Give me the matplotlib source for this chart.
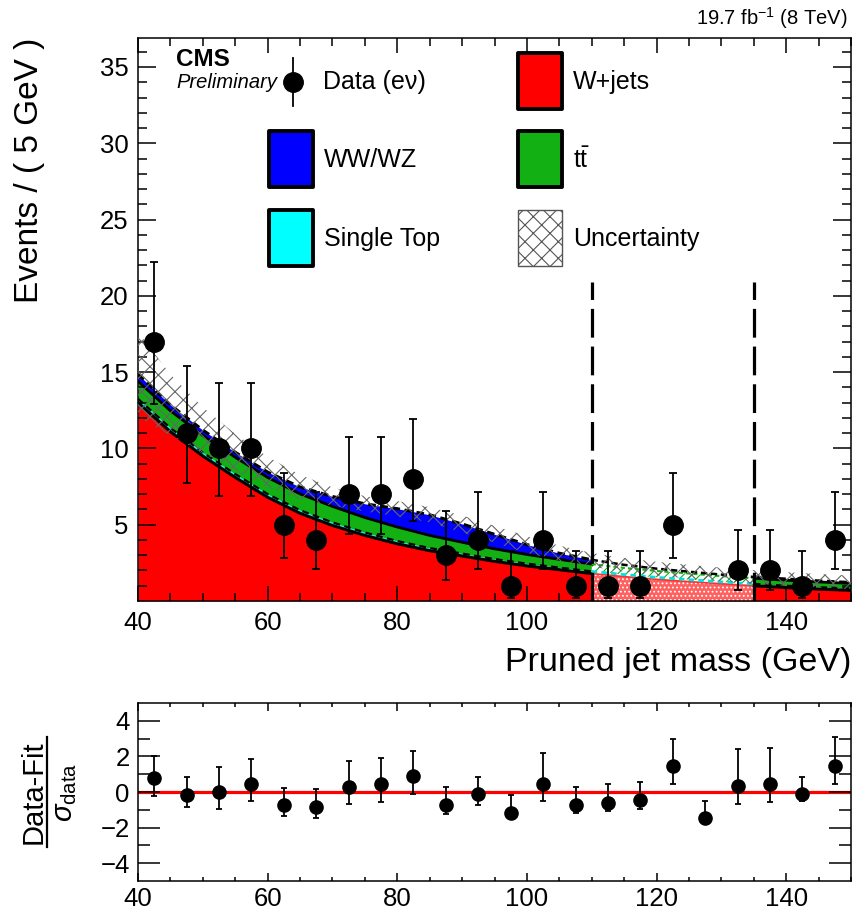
import numpy as np
import matplotlib.pyplot as plt
from matplotlib.patches import Rectangle
from matplotlib.lines import Line2D

plt.rcParams['font.family'] = ['Liberation Sans', 'DejaVu Sans']
plt.rcParams['mathtext.fontset'] = 'custom'
plt.rcParams['mathtext.rm'] = 'Liberation Sans'
plt.rcParams['mathtext.it'] = 'Liberation Sans:italic'
plt.rcParams['mathtext.bf'] = 'Liberation Sans:bold'
plt.rcParams['hatch.linewidth'] = 0.8

# --- data ---
bin_centers = [42.5, 47.5, 52.5, 57.5, 62.5, 67.5, 72.5, 77.5, 82.5, 87.5, 92.5,
               97.5, 102.5, 107.5, 112.5, 117.5, 122.5, 127.5, 132.5, 137.5, 142.5, 147.5]
data_counts = [17, 11, 10, 10, 5, 4, 7, 7, 8, 3, 4, 1, 4, 1, 1, 1, 5, 0, 2, 2, 1, 4]
data_err_lo = [4.1, 3.27, 3.11, 3.11, 2.16, 1.91, 2.58, 2.58, 2.77, 1.63, 1.91, 0.83,
               1.91, 0.83, 0.83, 0.83, 2.16, 0.0, 1.29, 1.29, 0.83, 1.91]
data_err_hi = [5.2, 4.42, 4.27, 4.27, 3.38, 3.16, 3.77, 3.77, 3.95, 2.92, 3.16, 2.30,
               3.16, 2.30, 2.30, 2.30, 3.38, 0.0, 2.64, 2.64, 2.30, 3.16]

# fit components (not stacked), sampled every 5 GeV
mass = [40, 45, 50, 55, 60, 65, 70, 75, 80, 85, 90, 95, 100, 105, 110,
        115, 120, 125, 130, 135, 140, 145, 150]
wjets = [13.0, 11.1, 9.5, 8.1, 6.8, 5.75, 4.95, 4.3, 3.75, 3.3, 2.95, 2.6, 2.3, 2.05, 1.8,
         1.6, 1.42, 1.27, 1.13, 1.0, 0.88, 0.78, 0.7]
single_top = [0.25, 0.24, 0.23, 0.22, 0.21, 0.2, 0.2, 0.19, 0.18, 0.17, 0.16, 0.15, 0.15, 0.14, 0.14,
              0.13, 0.13, 0.13, 0.12, 0.12, 0.12, 0.12, 0.12]
ttbar = [1.15, 1.13, 1.12, 1.1, 1.09, 1.07, 1.05, 0.98, 0.92, 0.83, 0.74, 0.67, 0.6, 0.54, 0.48,
         0.44, 0.42, 0.4, 0.38, 0.37, 0.36, 0.35, 0.33]
diboson = [0.45, 0.38, 0.35, 0.33, 0.35, 0.45, 0.65, 0.9, 1.2, 1.35, 1.2, 0.95, 0.65, 0.4, 0.28,
           0.2, 0.15, 0.12, 0.1, 0.09, 0.08, 0.07, 0.06]
unc_width = [2.8, 2.0, 1.5, 1.2, 1.0, 0.8, 0.6, 0.5, 0.5, 0.5, 0.55, 0.55, 0.55, 0.5, 0.45,
             0.45, 0.45, 0.45, 0.45, 0.45, 0.45, 0.45, 0.45]

pull = [0.77, -0.17, 0.0, 0.45, -0.73, -0.86, 0.30, 0.43, 0.90, -0.73, -0.13, -1.2,
        0.45, -0.73, -0.6, -0.45, 1.46, -1.47, 0.34, 0.45, -0.13, 1.46]
pull_top = [2.0, 0.86, 1.42, 1.83, 0.24, 0.15, 1.76, 1.89, 2.32, 0.30, 0.86, -0.19,
            2.17, 0.30, 0.43, 0.58, 3.0, -0.49, 2.41, 2.5, 0.86, 3.1]
pull_bottom = [-0.22, -0.86, -0.98, -0.5, -1.34, -1.47, -0.67, -0.58, -0.11, -1.25, -0.73, -1.45,
               -0.5, -1.2, -1.05, -0.95, 0.45, -1.75, -0.67, -0.54, -0.5, 0.45]

signal_window = [110, 135]

W, H = 852, 911


def fx(px):
    return px / W


def fy(py):
    return 1 - py / H


fig = plt.figure(figsize=(W / 100, H / 100), dpi=100)
ax = fig.add_axes([fx(138), fy(601), fx(851) - fx(138), fy(38) - fy(601)])
axr = fig.add_axes([fx(138), fy(881), fx(851) - fx(138), fy(703) - fy(881)])

m = np.array(mass, float)
lvl1 = np.array(wjets)
lvl2 = lvl1 + np.array(single_top)
lvl3 = lvl2 + np.array(ttbar)
lvl4 = lvl3 + np.array(diboson)
unc = np.array(unc_width)

# stacked fit components
ax.fill_between(m, 0, lvl1, color='#ff0000', lw=0, zorder=1)
ax.fill_between(m, lvl1, lvl2, color='#00ffff', lw=0, zorder=1)
ax.fill_between(m, lvl2, lvl3, color='#12b012', lw=0, zorder=1)
ax.fill_between(m, lvl3, lvl4, color='#0000ff', lw=0, zorder=1)

# blinded window drawn in a lighter style
win = (m >= signal_window[0]) & (m <= signal_window[1])
ax.fill_between(m[win], 0, lvl1[win], facecolor='#ff6060', edgecolor='white', hatch='....', lw=0, zorder=2)
ax.fill_between(m[win], lvl1[win], lvl4[win], facecolor='white', lw=0, zorder=2)
ax.fill_between(m[win], lvl2[win], lvl3[win], facecolor='none', edgecolor='#12b012', hatch='////', lw=0, zorder=2)

for part in [m <= signal_window[0], m >= signal_window[1]]:
    ax.plot(m[part], lvl1[part], color='black', lw=2.2, zorder=3)
    ax.plot(m[part], lvl2[part], color='black', lw=1.6, ls=(0, (3, 2)), zorder=3)
    ax.plot(m[part], lvl3[part], color='black', lw=2.0, zorder=3)
    ax.plot(m[part], lvl4[part], color='black', lw=2.2, ls=(0, (2.5, 1.5)), zorder=3)
ax.plot(m[win], lvl1[win], color='#ff3030', lw=1.2, zorder=3)
ax.plot(m[win], lvl2[win], color='#00e0e0', lw=2.0, ls=(0, (2, 1.5)), zorder=3)
ax.plot(m[win], lvl3[win], color='#12b012', lw=1.5, ls=(0, (2, 1.5)), zorder=3)
ax.plot(m[win], lvl4[win], color='black', lw=1.8, ls=(0, (2.5, 1.5)), zorder=3)

# uncertainty band
ax.fill_between(m, lvl4 - unc, lvl4 + unc, facecolor='none', edgecolor='#666666',
                hatch='xx', lw=0, zorder=4)

# window boundaries
for xv in signal_window:
    ax.plot([xv, xv], [0, 20.9], color='black', lw=2.3, ls=(0, (9, 2.8)), zorder=5)

# data
bc = np.array(bin_centers)
dc = np.array(data_counts, float)
shown = dc > 0
ax.errorbar(bc[shown], dc[shown],
            yerr=[np.array(data_err_lo)[shown], np.array(data_err_hi)[shown]],
            fmt='o', color='black', ms=14, elinewidth=1.3, capsize=3, capthick=1.3, zorder=6)

ax.set_xlim(40, 150)
ax.set_ylim(0, 36.9)
ax.set_xticks([40, 60, 80, 100, 120, 140])
ax.set_xticks(np.arange(40, 151, 5), minor=True)
ax.set_yticks([5, 10, 15, 20, 25, 30, 35])
ax.set_yticks(np.arange(1, 37, 1), minor=True)
ax.tick_params(which='both', direction='in', top=True, right=True, width=1.1,
               labelsize=18.5, pad=7)
ax.tick_params(axis='y', which='major', length=13)
ax.tick_params(axis='y', which='minor', length=6.5)
ax.tick_params(axis='x', which='major', length=11)
ax.tick_params(axis='x', which='minor', length=5.5)
for s in ax.spines.values():
    s.set_linewidth(1.1)

# ratio panel
p = np.array(pull)
axr.axhline(0, color='red', lw=2.3, zorder=1)
axr.errorbar(bc, p, yerr=[p - np.array(pull_bottom), np.array(pull_top) - p],
             fmt='o', color='black', ms=9.5, elinewidth=1.3, capsize=2.5, capthick=1.3, zorder=3)
axr.set_xlim(40, 150)
axr.set_ylim(-5, 5)
axr.set_xticks([40, 60, 80, 100, 120, 140])
axr.set_xticks(np.arange(40, 151, 5), minor=True)
axr.set_yticks([-4, -2, 0, 2, 4])
axr.set_yticks([-3, -1, 1, 3], minor=True)
axr.tick_params(which='both', direction='in', top=True, right=True, width=1.1, labelsize=18.5)
axr.tick_params(axis='y', which='major', length=16, pad=6)
axr.tick_params(axis='y', which='minor', length=8.5)
axr.tick_params(axis='x', which='major', length=6, pad=4)
axr.tick_params(axis='x', which='minor', length=3)
for s in axr.spines.values():
    s.set_linewidth(1.1)

# axis titles
fig.text(fx(30), fy(38), 'Events / ( 5 GeV )', rotation=90, ha='center', va='top', fontsize=24)
fig.text(fx(851), fy(663), 'Pruned jet mass (GeV)', ha='right', va='center', fontsize=24.5)
fig.text(fx(34), fy(792), 'Data-Fit', rotation=90, ha='center', va='center', fontsize=21)
fig.add_artist(Line2D([fx(47), fx(47)], [fy(737), fy(847)], color='black', lw=1.6))
fig.text(fx(65), fy(792), r'$\sigma_{\rm data}$', rotation=90, ha='center', va='center', fontsize=21)

fig.text(fx(848), fy(18), r'19.7 fb$^{-1}$ (8 TeV)', ha='right', va='center', fontsize=14.5)
fig.text(fx(176), fy(60), 'CMS', ha='left', va='center', fontsize=17.5, fontweight='bold')
fig.text(fx(176), fy(83), 'Preliminary', ha='left', va='center', fontsize=14.5, style='italic')

# legend
fig.add_artist(Line2D([fx(293), fx(293)], [fy(58), fy(106)], color='black', lw=1.3))
fig.add_artist(Line2D([fx(293)], [fy(82)], marker='o', color='black', ms=14))
fig.text(fx(323), fy(82), 'Data (eν)', ha='left', va='center', fontsize=18)

legend_boxes = [
    (518, 53, '#ff0000', 'W+jets'),
    (269, 131, '#0000ff', 'WW/WZ'),
    (518, 131, '#12b012', r'$\mathrm{t\bar{t}}$'),
    (269, 210, '#00ffff', 'Single Top'),
]
for bx, by, col, lab in legend_boxes:
    fig.add_artist(Rectangle((fx(bx), fy(by + 56)), fx(44), 56 / H, facecolor=col,
                             edgecolor='black', lw=2.8, joinstyle='round',
                             transform=fig.transFigure))
    fig.text(fx(bx + 55), fy(by + 29), lab, ha='left', va='center', fontsize=18)

fig.add_artist(Rectangle((fx(518), fy(266)), fx(44), 56 / H, facecolor='white',
                         edgecolor='#555555', hatch='xx', lw=1.0,
                         transform=fig.transFigure))
fig.text(fx(573), fy(239), 'Uncertainty', ha='left', va='center', fontsize=18)

fig.savefig('out.png', dpi=100)
